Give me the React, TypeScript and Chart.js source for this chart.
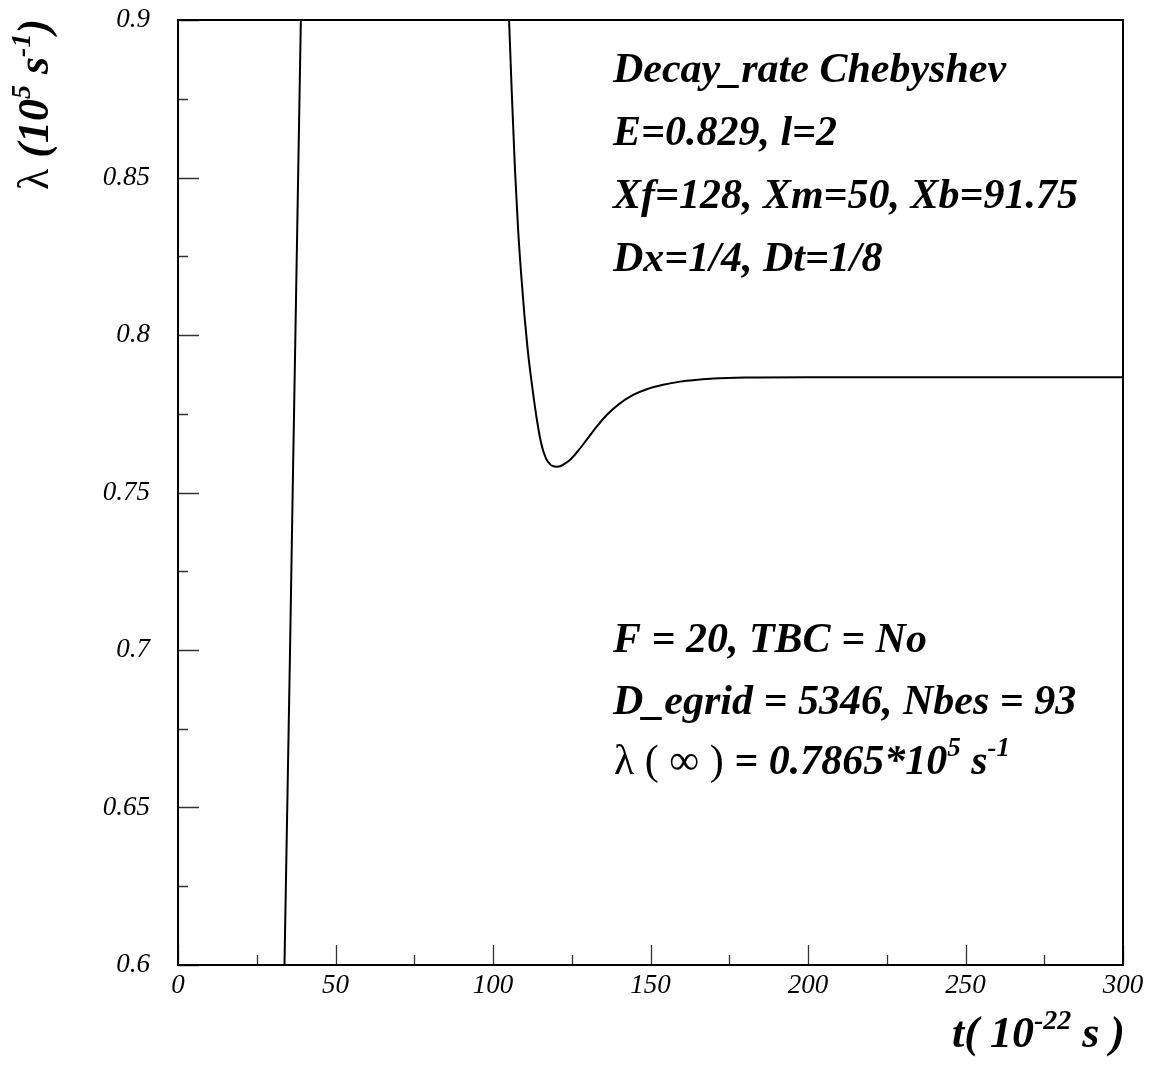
import React, { useEffect, useRef } from "react";
import { Chart, registerables } from "chart.js";

Chart.register(...registerables);

// ---- data ----
const timeValues = [
  33.0, 33.8, 36.4, 39.0, 40.7, 102.5, 104.2, 105.1, 106.0, 107.0, 108.0, 109.0, 110.0,
  111.0, 112.0, 113.0, 114.0, 115.0, 116.0, 117.0, 118.0, 119.0, 120.2, 121.5, 123.0,
  124.4, 127.0, 129.7, 133.0, 136.1, 140.3, 144.5, 148.8, 154.0, 159.4, 165.0, 170.0,
  180.0, 200.0, 250.0, 300.0,
];
const rateValues = [
  0.571, 0.6, 0.75, 0.9, 1.0, 1.0, 0.93, 0.9, 0.876, 0.852, 0.833, 0.8185, 0.806,
  0.7955, 0.787, 0.7795, 0.7727, 0.767, 0.763, 0.7605, 0.7591, 0.7584, 0.7582, 0.7584, 0.7593,
  0.7603, 0.7632, 0.7667, 0.771, 0.7746, 0.7783, 0.781, 0.7828, 0.7842, 0.7852, 0.7858, 0.7862,
  0.7865, 0.7866, 0.7866, 0.7866,
];

const xTickValues = [0, 50, 100, 150, 200, 250, 300];
const xTickLabels = ["0", "50", "100", "150", "200", "250", "300"];
const xMinorTickValues = [25, 75, 125, 175, 225, 275];
const yTickValues = [0.6, 0.65, 0.7, 0.75, 0.8, 0.85, 0.9];
const yTickLabels = ["0.6", "0.65", "0.7", "0.75", "0.8", "0.85", "0.9"];
const yMinorTickValues = [0.625, 0.675, 0.725, 0.775, 0.825, 0.875];

const infoTop = [
  "Decay_rate Chebyshev",
  "E=0.829, l=2",
  "Xf=128, Xm=50, Xb=91.75",
  "Dx=1/4, Dt=1/8",
];
const infoBottom = ["F = 20, TBC = No", "D_egrid = 5346, Nbes = 93"];
const lambdaInfValue = "0.7865";

const SERIF = '"Liberation Serif", "Times New Roman", serif';
const BI = (s: number) => `italic bold ${s}px ${SERIF}`;
const REG = (s: number) => `${s}px ${SERIF}`;

type Seg = { text: string; font: string; dy?: number };

function drawRich(ctx: CanvasRenderingContext2D, x: number, y: number, segs: Seg[]) {
  let cx = x;
  for (const s of segs) {
    ctx.font = s.font;
    ctx.fillText(s.text, cx, y + (s.dy || 0));
    cx += ctx.measureText(s.text).width;
  }
}

const decorPlugin = {
  id: "decor",
  afterDraw(chart: any) {
    const ctx: CanvasRenderingContext2D = chart.ctx;
    const { left, right, top, bottom } = chart.chartArea;
    const xs = chart.scales.x;
    const ys = chart.scales.y;
    ctx.save();

    // tick marks (inside)
    ctx.strokeStyle = "#333";
    ctx.lineWidth = 1.3;
    ctx.beginPath();
    for (const v of xTickValues) {
      const px = Math.round(xs.getPixelForValue(v)) + 0.5;
      ctx.moveTo(px, bottom);
      ctx.lineTo(px, bottom - 20);
    }
    for (const v of xMinorTickValues) {
      const px = Math.round(xs.getPixelForValue(v)) + 0.5;
      ctx.moveTo(px, bottom);
      ctx.lineTo(px, bottom - 10);
    }
    for (const v of yTickValues) {
      const py = Math.round(ys.getPixelForValue(v)) + 0.5;
      ctx.moveTo(left, py);
      ctx.lineTo(left + 21, py);
    }
    for (const v of yMinorTickValues) {
      const py = Math.round(ys.getPixelForValue(v)) + 0.5;
      ctx.moveTo(left, py);
      ctx.lineTo(left + 10, py);
    }
    ctx.stroke();

    // frame
    ctx.strokeStyle = "#000";
    ctx.lineWidth = 2;
    ctx.strokeRect(left, top, right - left, bottom - top);

    // annotations
    ctx.fillStyle = "#000";
    ctx.textAlign = "left";
    ctx.textBaseline = "alphabetic";
    const F = 42;
    const topBase = [82, 145, 208, 271];
    infoTop.forEach((t, i) => drawRich(ctx, 613, topBase[i], [{ text: t, font: BI(F) }]));
    const botBase = [652, 714];
    infoBottom.forEach((t, i) => drawRich(ctx, 613, botBase[i], [{ text: t, font: BI(F) }]));
    drawRich(ctx, 614, 774, [
      { text: "\u03bb", font: REG(F) },
      { text: " ( ", font: REG(F) },
      { text: "\u221e", font: REG(F) },
      { text: " ) ", font: REG(F) },
      { text: "= " + lambdaInfValue + "*10", font: BI(F) },
      { text: "5", font: BI(27), dy: -18 },
      { text: " s", font: BI(F) },
      { text: "-1", font: BI(27), dy: -18 },
    ]);

    // x title
    drawRich(ctx, 952, 1047, [
      { text: "t( 10", font: BI(44) },
      { text: "-22", font: BI(28), dy: -18 },
      { text: " s )", font: BI(44) },
    ]);

    // y title (rotated)
    ctx.save();
    ctx.translate(48, 190);
    ctx.rotate(-Math.PI / 2);
    drawRich(ctx, 0, 0, [
      { text: "\u03bb", font: REG(44) },
      { text: " (10", font: BI(44) },
      { text: "5", font: BI(28), dy: -18 },
      { text: " s", font: BI(44) },
      { text: "-1", font: BI(28), dy: -18 },
      { text: ")", font: BI(44) },
    ]);
    ctx.restore();

    ctx.restore();
  },
};

export default function App() {
  const canvasRef = useRef<HTMLCanvasElement | null>(null);

  useEffect(() => {
    const canvas = canvasRef.current;
    if (!canvas) return;
    const points = timeValues.map((t, i) => ({ x: t, y: rateValues[i] }));
    const tickFont = { family: SERIF, size: 27, style: "italic" as const };
    const chart = new Chart(canvas, {
      type: "line",
      data: {
        datasets: [
          {
            data: points,
            borderColor: "#000",
            borderWidth: 2,
            pointRadius: 0,
            fill: false,
            cubicInterpolationMode: "monotone",
          },
        ],
      },
      options: {
        animation: false,
        responsive: false,
        devicePixelRatio: 1,
        layout: { padding: { left: 0, top: 20, right: 29, bottom: 0 } },
        plugins: { legend: { display: false }, tooltip: { enabled: false } },
        scales: {
          x: {
            type: "linear",
            min: 0,
            max: 300,
            afterBuildTicks: (s: any) => {
              s.ticks = xTickValues.map((v) => ({ value: v }));
            },
            afterFit: (s: any) => {
              s.height = 101;
              s.paddingLeft = 0;
              s.paddingRight = 0;
            },
            ticks: {
              color: "#000",
              font: tickFont,
              padding: 5,
              maxRotation: 0,
              autoSkip: false,
              callback: (_v: any, i: number) => xTickLabels[i],
            },
            grid: { display: false, drawTicks: false },
            border: { display: false },
          },
          y: {
            type: "linear",
            min: 0.6,
            max: 0.9,
            afterBuildTicks: (s: any) => {
              s.ticks = yTickValues.map((v) => ({ value: v }));
            },
            afterFit: (s: any) => {
              s.width = 178;
              s.paddingTop = 0;
              s.paddingBottom = 0;
            },
            ticks: {
              color: "#000",
              font: tickFont,
              padding: 28,
              autoSkip: false,
              callback: (_v: any, i: number) => yTickLabels[i],
            },
            grid: { display: false, drawTicks: false },
            border: { display: false },
          },
        },
      },
      plugins: [decorPlugin],
    });
    return () => chart.destroy();
  }, []);

  return (
    <div style={{ position: "fixed", left: 0, top: 0, width: 1152, height: 1066, background: "#fff" }}>
      <canvas ref={canvasRef} width={1152} height={1066} style={{ display: "block" }} />
    </div>
  );
}
